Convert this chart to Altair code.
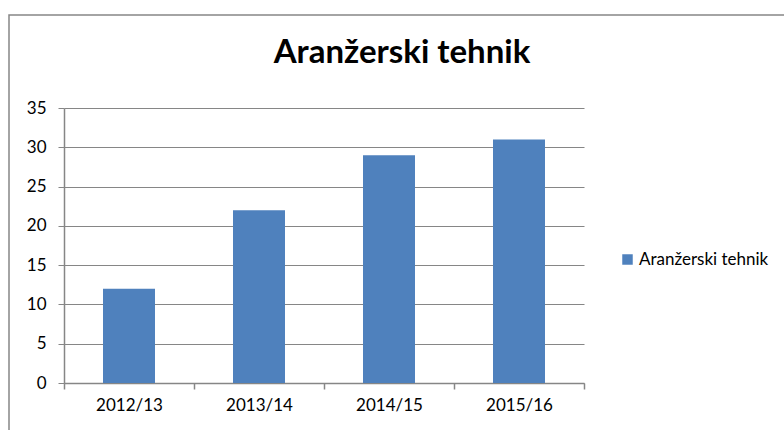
import altair as alt
import pandas as pd

years = ["2012/13", "2013/14", "2014/15", "2015/16"]
values = [12, 22, 29, 31]
series_name = "Aranžerski tehnik"
y_ticks = [0, 5, 10, 15, 20, 25, 30, 35]

df = pd.DataFrame({"year": years, "value": values, "series": [series_name] * len(years)})
frame_df = pd.DataFrame({"k": [0]})

FONT = "Lato"
GRAY = "#868686"
BLUE = "#4F81BD"

bars = alt.Chart(df).mark_bar(width=alt.RelativeBandSize(band=0.4)).encode(
    x=alt.X(
        "year:N", sort=years, title=None,
        scale=alt.Scale(paddingInner=0, paddingOuter=0),
        axis=alt.Axis(tickBand="extent", labelAngle=0, grid=False, domainColor=GRAY,
                      tickColor=GRAY, tickSize=6, domainWidth=1.5, tickWidth=1.5,
                      labelFont=FONT, labelFontSize=17, labelColor="black", labelPadding=8),
    ),
    y=alt.Y(
        "value:Q", title=None, scale=alt.Scale(domain=[0, 35], nice=False),
        axis=alt.Axis(values=y_ticks, grid=True, gridColor=GRAY, gridWidth=1.2,
                      domainColor=GRAY, tickColor=GRAY, tickSize=6, domainWidth=1.5,
                      labelFont=FONT, labelFontSize=17, labelColor="black", labelPadding=12),
    ),
    color=alt.Color(
        "series:N", title=None, scale=alt.Scale(range=[BLUE]),
        legend=alt.Legend(orient="none", legendX=555, legendY=143, symbolType="square",
                          symbolSize=110, symbolStrokeWidth=0, labelFont=FONT,
                          labelFontSize=17, labelColor="black", labelOffset=3, padding=0),
    ),
)

frame = alt.Chart(frame_df).mark_rect(fill="transparent", stroke=GRAY, strokeWidth=1.5).encode(
    x=alt.value(-55), x2=alt.value(800), y=alt.value(-93), y2=alt.value(400)
)

chart = alt.layer(frame, bars).properties(
    width=520, height=275,
    title=alt.TitleParams(series_name, font=FONT, fontSize=33, fontWeight="bold",
                          anchor="middle", dx=78, offset=0, dy=82, baseline="alphabetic",
                          color="black"),
    autosize=alt.AutoSizeParams(type="none"),
    padding={"left": 64, "top": 108, "right": 200, "bottom": 47},
).configure_view(stroke=None)

chart.save("out.html", embed_options={"renderer": "svg", "actions": False})
